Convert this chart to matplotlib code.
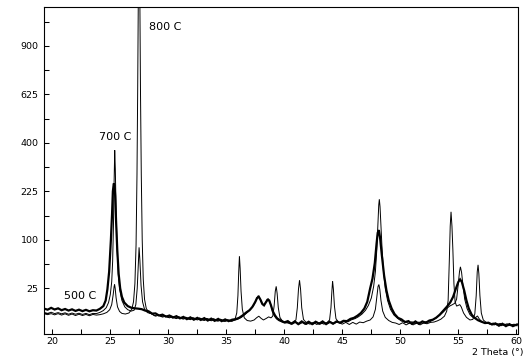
import numpy as np
import matplotlib
matplotlib.use("Agg")
import matplotlib.pyplot as plt

# ---- data: (2 Theta, counts) ----
pattern_500C = [
    (19.3, 8.4), (19.6, 7.8), (19.9, 8.9), (20.2, 7.9), (20.5, 8.6), (20.8, 7.5), (21.1, 8.2),
    (21.4, 7.3), (21.7, 8.0), (22.0, 7.1), (22.3, 7.8), (22.6, 7.0), (22.9, 7.7), (23.2, 6.9),
    (23.5, 7.5), (23.8, 7.3), (24.1, 8.3), (24.4, 10), (24.6, 14), (24.75, 24), (24.9, 45),
    (25.05, 100), (25.15, 160), (25.22, 225), (25.3, 250), (25.36, 245), (25.42, 210),
    (25.5, 140), (25.6, 80), (25.72, 42), (25.85, 25), (26.0, 17), (26.2, 12.5), (26.5, 10),
    (26.8, 9), (27.1, 8.6), (27.4, 8.4), (27.7, 8.1), (28.0, 7.3), (28.3, 6.9), (28.6, 5.7),
    (28.9, 5.8), (29.2, 4.8), (29.5, 5.2), (29.8, 4.3), (30.1, 4.8), (30.4, 3.9), (30.7, 4.5),
    (31.0, 3.6), (31.3, 4.2), (31.6, 3.3), (31.9, 4.0), (32.2, 3.1), (32.5, 3.8), (32.8, 3.0),
    (33.1, 3.7), (33.4, 2.8), (33.7, 3.5), (34.0, 2.7), (34.3, 3.4), (34.6, 2.6), (34.9, 3.2),
    (35.2, 2.6), (35.5, 3.1), (35.8, 3.3), (36.1, 3.8), (36.4, 4.8), (36.7, 6.2), (37.0, 7.5),
    (37.25, 9.5), (37.5, 13), (37.65, 16), (37.8, 17), (37.95, 14.5), (38.1, 11.5),
    (38.25, 10.5), (38.4, 12.5), (38.55, 14.5), (38.7, 14), (38.85, 10.5), (39.0, 7),
    (39.2, 4.8), (39.4, 3.5), (39.7, 2.8), (40.0, 2.2), (40.3, 2.6), (40.6, 1.8), (40.9, 2.5),
    (41.2, 1.7), (41.5, 2.5), (41.8, 1.8), (42.1, 2.4), (42.4, 1.7), (42.7, 2.4), (43.0, 1.8),
    (43.3, 2.5), (43.6, 1.7), (43.9, 2.4), (44.2, 1.8), (44.5, 2.5), (44.8, 2.1), (45.1, 2.7),
    (45.4, 2.6), (45.7, 3.4), (46.0, 3.8), (46.3, 4.7), (46.6, 6.0), (46.9, 8.5), (47.15, 13),
    (47.4, 25), (47.6, 36), (47.8, 58), (47.95, 92), (48.05, 115), (48.15, 121), (48.25, 105),
    (48.4, 72), (48.6, 40), (48.8, 23), (49.0, 14), (49.25, 8.5), (49.5, 5.5), (49.8, 3.8),
    (50.1, 3.2), (50.4, 2.3), (50.7, 2.6), (51.0, 1.8), (51.3, 2.5), (51.6, 1.8), (51.9, 2.5),
    (52.2, 2.1), (52.5, 2.8), (52.8, 3.1), (53.1, 3.9), (53.4, 5.2), (53.7, 7.2), (54.0, 9.5),
    (54.3, 12.5), (54.55, 17), (54.8, 25), (55.0, 32), (55.15, 35), (55.3, 32), (55.5, 23),
    (55.7, 14), (55.9, 8.5), (56.15, 5.2), (56.4, 3.8), (56.7, 2.9), (57.0, 2.4), (57.3, 2.0),
    (57.6, 2.1), (57.9, 1.6), (58.2, 1.9), (58.5, 1.3), (58.8, 1.8), (59.1, 1.2), (59.4, 1.7),
    (59.7, 1.2), (60.05, 1.6),
]

pattern_700C = [
    (19.3, 6.3), (19.6, 5.8), (19.9, 6.4), (20.2, 5.7), (20.5, 6.2), (20.8, 5.6), (21.1, 6.1),
    (21.4, 5.4), (21.7, 6.0), (22.0, 5.4), (22.3, 5.9), (22.6, 5.3), (22.9, 5.8), (23.2, 5.2),
    (23.5, 5.8), (23.8, 5.7), (24.1, 6.3), (24.4, 7.3), (24.65, 9), (24.85, 12.5), (25.0, 19),
    (25.12, 32), (25.2, 60), (25.27, 130), (25.33, 260), (25.38, 370), (25.43, 300),
    (25.5, 170), (25.58, 85), (25.68, 42), (25.8, 24), (26.0, 14), (26.25, 9.5), (26.5, 7.8),
    (26.8, 7.0), (27.05, 7.5), (27.2, 11), (27.32, 25), (27.42, 60), (27.48, 85), (27.55, 62),
    (27.65, 28), (27.78, 13), (27.95, 8), (28.2, 6.2), (28.5, 5.8), (28.8, 4.7), (29.1, 5.2),
    (29.4, 4.3), (29.7, 4.8), (30.0, 3.9), (30.3, 4.6), (30.6, 3.6), (30.9, 4.3), (31.2, 3.4),
    (31.5, 4.1), (31.8, 3.2), (32.1, 3.9), (32.4, 3.1), (32.7, 3.8), (33.0, 2.9), (33.3, 3.6),
    (33.6, 2.8), (33.9, 3.5), (34.2, 2.6), (34.5, 3.3), (34.8, 2.5), (35.1, 3.1), (35.4, 2.5),
    (35.7, 2.9), (36.0, 3.3), (36.3, 4.0), (36.6, 5.2), (36.9, 6.8), (37.15, 8.5), (37.4, 11),
    (37.6, 15), (37.75, 18), (37.9, 15.5), (38.05, 12), (38.2, 10.5), (38.35, 12), (38.5, 14.5),
    (38.62, 15.5), (38.75, 13), (38.9, 9), (39.05, 5.5), (39.25, 3.8), (39.5, 2.8), (39.8, 2.3),
    (40.1, 2.0), (40.4, 2.3), (40.7, 1.7), (41.0, 2.3), (41.3, 1.7), (41.6, 2.2), (41.9, 1.6),
    (42.2, 2.2), (42.5, 1.7), (42.8, 2.3), (43.1, 1.7), (43.4, 2.2), (43.7, 1.8), (44.0, 2.3),
    (44.3, 1.9), (44.6, 2.4), (44.9, 2.0), (45.2, 2.6), (45.5, 2.4), (45.8, 3.1), (46.1, 3.5),
    (46.4, 4.3), (46.7, 5.5), (47.0, 7.5), (47.25, 10.5), (47.5, 16), (47.7, 27), (47.85, 45),
    (47.97, 80), (48.07, 140), (48.14, 185), (48.19, 201), (48.25, 180), (48.33, 130),
    (48.43, 80), (48.55, 45), (48.7, 25), (48.9, 14), (49.15, 8), (49.45, 5), (49.8, 3.5),
    (50.1, 2.6), (50.4, 2.5), (50.7, 1.9), (51.0, 2.4), (51.3, 1.8), (51.6, 2.3), (51.9, 1.9),
    (52.2, 2.4), (52.5, 2.3), (52.8, 3.0), (53.1, 3.8), (53.4, 5.0), (53.7, 6.5), (54.0, 8.5),
    (54.25, 10), (54.5, 11), (54.7, 12), (54.85, 15), (54.98, 28), (55.1, 45), (55.18, 52),
    (55.28, 44), (55.4, 28), (55.55, 15), (55.75, 8.5), (56.0, 5.2), (56.3, 3.8), (56.5, 4.0),
    (56.65, 4.6), (56.8, 3.4), (57.0, 2.5), (57.2, 2.1), (57.5, 1.9), (57.8, 1.8), (58.1, 1.5),
    (58.4, 1.8), (58.7, 1.3), (59.0, 1.7), (59.3, 1.3), (59.6, 1.6), (60.05, 1.3),
]

pattern_800C = [
    (19.3, 5.6), (19.6, 5.2), (19.9, 5.7), (20.2, 5.1), (20.5, 5.7), (20.8, 5.0), (21.1, 5.6),
    (21.4, 4.9), (21.7, 5.5), (22.0, 4.8), (22.3, 5.4), (22.6, 4.8), (22.9, 5.3), (23.2, 4.7),
    (23.5, 5.3), (23.8, 5.0), (24.1, 5.2), (24.4, 5.6), (24.7, 6.3), (24.95, 7.8), (25.12, 11),
    (25.25, 19), (25.33, 27), (25.37, 29), (25.42, 25), (25.5, 16), (25.62, 9.5), (25.8, 6.8),
    (26.0, 5.8), (26.3, 5.5), (26.6, 6.0), (26.85, 8), (27.0, 13), (27.12, 30), (27.22, 90),
    (27.3, 280), (27.36, 650), (27.42, 1300), (27.48, 1800), (27.54, 1300), (27.6, 650),
    (27.67, 280), (27.75, 100), (27.84, 35), (27.95, 15), (28.1, 8.5), (28.35, 6), (28.6, 5.6),
    (28.9, 4.5), (29.2, 5.0), (29.5, 4.1), (29.8, 4.6), (30.1, 3.8), (30.4, 4.4), (30.7, 3.5),
    (31.0, 4.1), (31.3, 3.3), (31.6, 3.9), (31.9, 3.1), (32.2, 3.8), (32.5, 3.0), (32.8, 3.6),
    (33.1, 2.8), (33.4, 3.5), (33.7, 2.7), (34.0, 3.3), (34.3, 2.6), (34.6, 3.1), (34.9, 2.5),
    (35.2, 3.0), (35.5, 2.6), (35.75, 3.3), (35.9, 6), (36.0, 18), (36.07, 45), (36.13, 69),
    (36.19, 50), (36.27, 22), (36.38, 8), (36.55, 3.8), (36.8, 2.8), (37.1, 2.6), (37.4, 3.0),
    (37.6, 3.8), (37.8, 4.5), (38.0, 3.6), (38.2, 3.0), (38.45, 3.6), (38.65, 4.2),
    (38.85, 3.8), (39.0, 4.5), (39.12, 10), (39.22, 22), (39.3, 27), (39.38, 20), (39.48, 9),
    (39.62, 4), (39.85, 2.5), (40.2, 2.1), (40.5, 1.8), (40.8, 2.3), (41.0, 3.0), (41.12, 9),
    (41.22, 24), (41.31, 34), (41.4, 24), (41.5, 9), (41.65, 3.2), (41.9, 2.1), (42.2, 1.7),
    (42.5, 2.2), (42.8, 1.6), (43.1, 2.2), (43.4, 1.7), (43.7, 2.2), (43.9, 3.0), (44.02, 9),
    (44.1, 22), (44.16, 33), (44.23, 24), (44.32, 10), (44.45, 3.5), (44.7, 2.1), (45.0, 1.7),
    (45.3, 2.2), (45.6, 1.6), (45.9, 2.2), (46.2, 1.7), (46.5, 2.3), (46.8, 2.1), (47.1, 2.6),
    (47.4, 3.0), (47.65, 4.2), (47.85, 8), (47.98, 17), (48.08, 27), (48.15, 29), (48.23, 24),
    (48.33, 14), (48.48, 7), (48.7, 4), (49.0, 2.8), (49.3, 2.2), (49.6, 2.0), (49.9, 1.6),
    (50.2, 2.1), (50.5, 1.5), (50.8, 2.0), (51.1, 1.5), (51.4, 2.0), (51.7, 1.5), (52.0, 2.0),
    (52.3, 1.8), (52.6, 2.2), (52.9, 2.3), (53.2, 2.7), (53.5, 3.3), (53.8, 4.5), (54.0, 7),
    (54.12, 14), (54.22, 60), (54.3, 130), (54.37, 166), (54.45, 130), (54.53, 80),
    (54.62, 30), (54.72, 13), (54.85, 10), (55.0, 10.5), (55.12, 11), (55.25, 9.5),
    (55.45, 6), (55.7, 4), (56.0, 3.0), (56.25, 3.2), (56.42, 5.5), (56.54, 18), (56.63, 45),
    (56.7, 55), (56.77, 42), (56.86, 18), (56.98, 6), (57.15, 3), (57.4, 2.2), (57.7, 1.7),
    (58.0, 2.0), (58.3, 1.5), (58.6, 1.9), (58.9, 1.4), (59.2, 1.8), (59.5, 1.3), (59.8, 1.7),
    (60.05, 1.3),
]

series_labels = ["500 C", "700 C", "800 C"]
label_positions = [(21.0, 17.3), (24.03, 425), (28.37, 1017)]
y_major_ticks = [25, 100, 225, 400, 625, 900]
y_minor_ticks = [6.25, 56.25, 156.25, 306.25, 506.25, 756.25, 1056.25]
x_major_ticks = [20, 25, 30, 35, 40, 45, 50, 55, 60]
x_minor_ticks = [22.5, 27.5, 32.5, 37.5, 42.5, 47.5, 52.5, 57.5]
x_label = "2 Theta (°)"

W, H = 525, 358
fig = plt.figure(figsize=(W / 100, H / 100), dpi=100)
left, right, top, bottom = 44.3, 517.5, 7.3, 333.7
ax = fig.add_axes([left / W, 1 - bottom / H, (right - left) / W, (bottom - top) / H])

def fwd(v):
    return np.sqrt(np.clip(v, 0, None))

def inv(v):
    return np.asarray(v) ** 2

ax.set_yscale('function', functions=(fwd, inv))

for pat, lw in [(pattern_800C, 0.7), (pattern_700C, 0.7), (pattern_500C, 1.6)]:
    arr = np.array(pat)
    ax.plot(arr[:, 0], arr[:, 1], color='black', lw=lw, solid_joinstyle='miter')

ax.set_xlim(19.31, 60.1)
ax.set_ylim(0.1, 1154)

ax.set_xticks(x_major_ticks)
ax.set_xticks(x_minor_ticks, minor=True)
ax.set_yticks(y_major_ticks)
ax.set_yticks(y_minor_ticks, minor=True)
ax.set_yticklabels([str(t) for t in y_major_ticks])
ax.set_xticklabels([str(t) for t in x_major_ticks])

ax.tick_params(axis='both', which='both', direction='in', length=3.5, width=0.75,
               colors='black', labelsize=6.8)
ax.tick_params(axis='y', which='both', pad=4.2)
ax.tick_params(axis='x', which='both', pad=2.2)
ax.tick_params(axis='x', which='both', top=False)
ax.tick_params(axis='y', which='both', right=False)

for s in ax.spines.values():
    s.set_linewidth(0.8)
    s.set_color('black')

for lab, (x, y) in zip(series_labels, label_positions):
    ax.text(x, y, lab, fontsize=8, ha='left', va='center', color='black')

fig.text(524 / W, 1 - 352 / H, x_label, fontsize=6.8, ha='right', va='center')

fig.savefig("out.png", dpi=100)
